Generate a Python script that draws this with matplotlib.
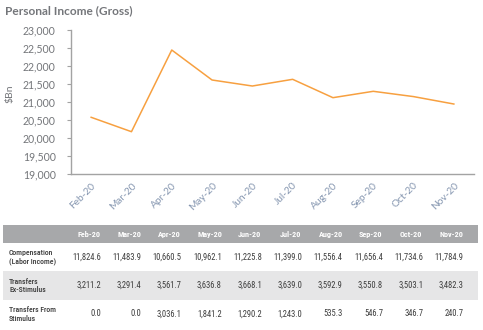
import os
import matplotlib
matplotlib.use("Agg")
import matplotlib.pyplot as plt
from matplotlib.patches import Rectangle
from matplotlib import font_manager as fm
import numpy as np

# ---- data ----
months = ["Feb-20", "Mar-20", "Apr-20", "May-20", "Jun-20",
          "Jul-20", "Aug-20", "Sep-20", "Oct-20", "Nov-20"]
personal_income = [20575, 20175, 22444, 21611, 21444,
                    21630, 21120, 21297, 21150, 20944]
yticks = [19000, 19500, 20000, 20500, 21000, 21500, 22000, 22500, 23000]

row_labels = ["Compensation\n(Labor Income)", "Transfers\nEx-Stimulus",
              "Transfers From\nStimulus"]
compensation = [11824.6, 11483.9, 10660.5, 10962.1, 11225.8,
                11399.0, 11556.4, 11656.4, 11734.6, 11784.9]
transfers_ex = [3211.2, 3291.4, 3561.7, 3636.8, 3668.1,
                3639.0, 3592.9, 3550.8, 3503.1, 3482.3]
transfers_stim = [0.0, 0.0, 3036.1, 1841.2, 1290.2,
                  1243.0, 535.3, 546.7, 346.7, 240.7]
table_rows = [compensation, transfers_ex, transfers_stim]

# ---- style ----
W, H = 483, 330
plt.rcParams['font.family'] = ['Lato', 'DejaVu Sans']
orange = '#f7a040'
grey_txt = '#74767a'
axis_grey = '#a3a3a3'
tick_blue = '#8596b0'


def pick_font(kind):
    files = [f.fname for f in fm.fontManager.ttflist]
    prefs = {
        'bold': ["liberationsansnarrow-bold.", "robotocondensed-bold.",
                 "dejavusanscondensed-bold.", "notosans-condensedbold."],
        'medium': ["robotocondensed-medium.", "notosans-condensedmedium.",
                   "liberationsansnarrow-regular.", "robotocondensed-regular.",
                   "dejavusanscondensed.", "notosans-condensed."],
        'regular': ["liberationsansnarrow-regular.", "robotocondensed-regular.",
                    "dejavusanscondensed.", "notosans-condensed."],
    }[kind]
    for p in prefs:
        for fn in files:
            if os.path.basename(fn).lower().startswith(p):
                return fm.FontProperties(fname=fn)
    return fm.FontProperties(family='Lato', weight='bold' if kind == 'bold' else 'normal')


fp_reg = pick_font('regular')
fp_med = pick_font('medium')
fp_bold = pick_font('bold')

fig = plt.figure(figsize=(W / 100, H / 100), dpi=100)
renderer = fig.canvas.get_renderer()


def fit_size(s, fp, target_px):
    t = fig.text(0, 0, s, fontproperties=fp, fontsize=10)
    w = t.get_window_extent(renderer).width
    t.remove()
    return 10 * target_px / w


def fx(px):
    return px / W


def fy(py):
    return 1 - py / H


ax_l, ax_r, ax_t, ax_b = 71, 474, 30, 174
ax = fig.add_axes([fx(ax_l), fy(ax_b), fx(ax_r) - fx(ax_l), fy(ax_t) - fy(ax_b)])
x = np.arange(len(months))
ax.plot(x, personal_income, color=orange, lw=1.1)
ax.set_xlim(-0.5, len(months) - 0.5)
ax.set_ylim(19000, 23000)
ax.set_yticks(yticks)
ax.set_yticklabels([f"{v:,}" for v in yticks])
ax.set_xticks(x)
ax.set_xticklabels(months, rotation=45, ha='right', rotation_mode='anchor')
for s in ['top', 'right']:
    ax.spines[s].set_visible(False)
for s in ['left', 'bottom']:
    ax.spines[s].set_color(axis_grey)
    ax.spines[s].set_linewidth(1.0)
ax.tick_params(axis='y', colors=axis_grey, labelcolor=grey_txt, labelsize=7.6,
               length=3, width=0.8, pad=8)
ax.tick_params(axis='x', length=0, labelcolor=tick_blue, labelsize=7.3, pad=5)
ax.set_ylabel("$Bn", color=grey_txt, fontsize=7.5)
ax.yaxis.set_label_coords((15 - ax_l) / (ax_r - ax_l), (ax_b - 94) / (ax_b - ax_t))

fig.text(fx(5), fy(11), "Personal Income (Gross)", color=grey_txt,
         fontsize=8.6, fontweight='bold', va='center', ha='left')

# ---- table ----
t_l, t_r, t_t, t_b = 3, 478, 225, 328
tax = fig.add_axes([fx(t_l), fy(t_b), fx(t_r) - fx(t_l), fy(t_t) - fy(t_b)])
unit = (ax_r - ax_l) / len(months)
x0 = -0.5 - (ax_l - t_l) / unit
x1 = len(months) - 0.5 + (t_r - ax_r) / unit
hdr = 18 / 28.0
nrows = len(table_rows)
tax.set_xlim(x0, x1)
tax.set_ylim(hdr + nrows, 0)
tax.axis('off')

sz_num = fit_size("11,824.6", fp_reg, 29)
sz_hdr = fit_size("Feb-20", fp_bold, 23)
sz_lab = fit_size("Compensation", fp_med, 44)

tax.add_patch(Rectangle((x0, 0), x1 - x0, hdr, color='#a7a8aa', lw=0))
for r in range(nrows):
    if r % 2 == 1:
        tax.add_patch(Rectangle((x0, hdr + r), x1 - x0, 1, color='#e6e6e7', lw=0))

for i, m in enumerate(months):
    tax.text(i - 0.06, hdr / 2, m, color='white', fontproperties=fp_bold,
             fontsize=sz_hdr, ha='center', va='center')

for r, (lab, vals) in enumerate(zip(row_labels, table_rows)):
    yc = hdr + r + 0.5
    tax.text(x0 + 6 / unit, yc, lab, color='#3c3c3c', fontproperties=fp_med,
             fontsize=sz_lab, ha='left', va='center', linespacing=1.25)
    for i, v in enumerate(vals):
        tax.text(i + 0.24, yc, f"{v:,.1f}", color='#3c3c3c', fontproperties=fp_reg,
                 fontsize=sz_num, ha='right', va='center')

fig.savefig("out.png", dpi=100)
